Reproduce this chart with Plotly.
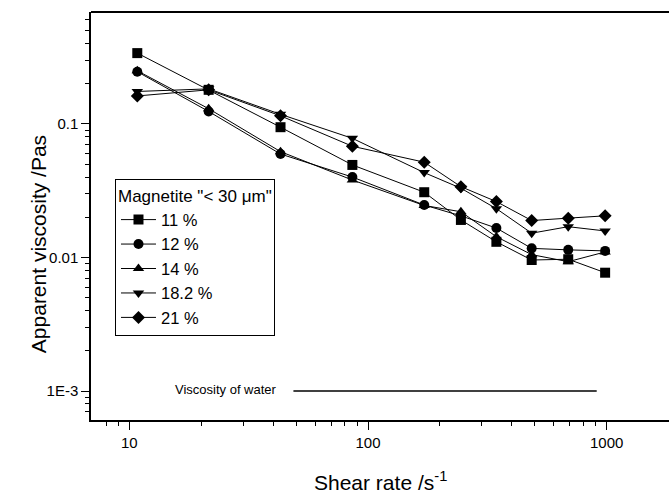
import plotly.graph_objects as go

# Shear rate (1/s) and apparent viscosity (Pa s) for each magnetite loading
shear_rate = [10.8, 21.5, 43, 86, 172, 245, 345, 485, 690, 985]
series_names = ["11 %", "12 %", "14 %", "18.2 %", "21 %"]
visc_11 = [0.339, 0.180, 0.0945, 0.0493, 0.0308, 0.0191, 0.0131, 0.00957, 0.0097, 0.00769]
visc_12 = [0.246, 0.124, 0.0595, 0.0400, 0.0247, 0.0205, 0.0166, 0.0117, 0.0114, 0.0112]
visc_14 = [0.250, 0.130, 0.0620, 0.0380, 0.0245, 0.0220, 0.0143, 0.0105, 0.0093, 0.0110]
visc_182 = [0.175, 0.183, 0.118, 0.078, 0.0432, 0.0330, 0.0232, 0.0152, 0.0170, 0.0158]
visc_21 = [0.162, 0.180, 0.115, 0.068, 0.0517, 0.0339, 0.0262, 0.0189, 0.0197, 0.0205]
symbols = ["square", "circle", "triangle-up", "triangle-down", "diamond"]

# Reference line for water (about 1 mPa s)
water_x = [48.7, 908]
water_y = [0.001, 0.001]

fig = go.Figure()
for name, vals, sym in zip(series_names, [visc_11, visc_12, visc_14, visc_182, visc_21], symbols):
    fig.add_trace(go.Scatter(
        x=shear_rate, y=vals, name=name, mode="lines+markers",
        line=dict(color="black", width=1),
        marker=dict(symbol=sym, size=10, color="black"),
    ))

fig.add_trace(go.Scatter(
    x=water_x, y=water_y, mode="lines", showlegend=False,
    line=dict(color="black", width=1.4),
))

font = "Liberation Sans, Arial, sans-serif"

x_minor = [8, 9] + [v * 10 for v in range(2, 10)] + [v * 100 for v in range(2, 10)] + [v * 1000 for v in range(2, 10)]
y_minor = [m * d for d in [1e-4, 1e-3, 1e-2, 1e-1] for m in range(2, 10)]

fig.update_xaxes(
    type="log", range=[0.8395, 3.261],
    tickmode="array", tickvals=[10, 100, 1000], ticktext=["10", "100", "1000"],
    ticks="outside", ticklen=8, tickwidth=1.3, tickcolor="black",
    minor=dict(tickmode="array", tickvals=x_minor, ticks="outside", ticklen=4,
               tickwidth=1.2, tickcolor="black", showgrid=False),
    showline=True, linecolor="black", linewidth=1.5, mirror=False,
    showgrid=False, zeroline=False,
    tickfont=dict(family=font, size=15, color="black"),
)
fig.update_yaxes(
    type="log", range=[-3.217, -0.162],
    tickmode="array", tickvals=[0.001, 0.01, 0.1], ticktext=["1E-3", "0.01", "0.1"],
    ticks="outside", ticklen=8, tickwidth=1.3, tickcolor="black",
    minor=dict(tickmode="array", tickvals=y_minor, ticks="outside", ticklen=4,
               tickwidth=1.2, tickcolor="black", showgrid=False),
    showline=True, linecolor="black", linewidth=1.5, mirror=False,
    showgrid=False, zeroline=False,
    tickfont=dict(family=font, size=15, color="black"),
)

# Top frame line
fig.add_shape(type="line", xref="paper", yref="paper", x0=0, x1=1, y0=1, y1=1,
              line=dict(color="black", width=2))

fig.add_annotation(x=1.407, y=-3, xref="x", yref="y", text="Viscosity of water",
                   showarrow=False, yshift=2,
                   font=dict(family=font, size=13, color="black"))

fig.add_annotation(x=-0.114, y=0.43, xref="paper", yref="paper",
                   text="Apparent viscosity /Pas", textangle=-90, showarrow=False,
                   font=dict(family=font, size=21, color="black"))
fig.add_annotation(x=0.5, y=-0.15, xref="paper", yref="paper",
                   text="Shear rate /s<sup>-1</sup>", showarrow=False, yanchor="middle",
                   font=dict(family=font, size=21, color="black"))

fig.update_layout(
    width=669, height=494,
    margin=dict(l=91, r=0, t=12, b=74),
    paper_bgcolor="white", plot_bgcolor="white",
    legend=dict(
        title=dict(text="Magnetite \"< 30 μm\"", font=dict(family=font, size=17, color="black")),
        x=0.0415, y=0.59, xanchor="left", yanchor="top",
        bordercolor="black", borderwidth=1, bgcolor="white",
        font=dict(family=font, size=16.5, color="black"),
        tracegroupgap=0, itemwidth=35,
    ),
    font=dict(family=font, color="black"),
)

fig.write_html("out.html")
